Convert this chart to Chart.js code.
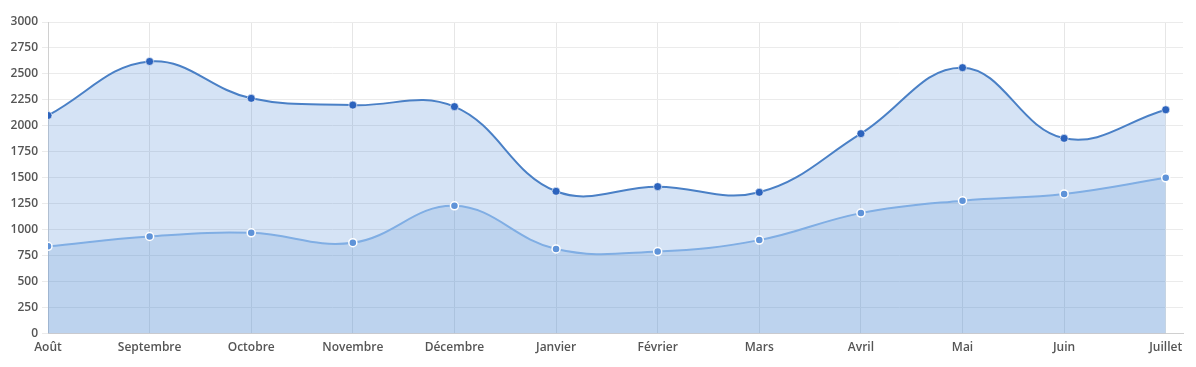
<!DOCTYPE html>
<html>
<head>
<meta charset="utf-8">
<script src="https://cdn.jsdelivr.net/npm/chart.js@4/dist/chart.umd.min.js"></script>
<style>
html,body{margin:0;padding:0;background:#fff;}
#wrap{width:1196px;height:367px;position:relative;}
</style>
</head>
<body>
<div id="wrap"><canvas id="c"></canvas></div>
<script>
const months = ['Août','Septembre','Octobre','Novembre','Décembre','Janvier','Février','Mars','Avril','Mai','Juin','Juillet'];
const seriesTop = [2100,2620,2265,2200,2185,1370,1415,1360,1925,2560,1880,2155];
const seriesBottom = [840,935,970,875,1230,815,790,900,1160,1280,1345,1500];
const yTicks = [0,250,500,750,1000,1250,1500,1750,2000,2250,2500,2750,3000];

const toPts = arr => arr.map((v,i)=>({x:i,y:v}));

new Chart(document.getElementById('c'), {
  type: 'line',
  data: {
    datasets: [
      {
        data: toPts(seriesBottom),
        borderColor: '#80aee4',
        borderWidth: 2,
        backgroundColor: 'rgba(74,134,210,0.17)',
        fill: 'origin',
        tension: 0.4,
        pointRadius: 4,
        pointBorderWidth: 1.5,
        pointBackgroundColor: '#5f93d8',
        pointBorderColor: '#ffffff'
      },
      {
        data: toPts(seriesTop),
        borderColor: '#4a80c6',
        borderWidth: 2,
        backgroundColor: 'rgba(74,134,210,0.23)',
        fill: 'origin',
        tension: 0.4,
        pointRadius: 4,
        pointBorderWidth: 1,
        pointBackgroundColor: '#2c63bd',
        pointBorderColor: 'rgba(255,255,255,0.6)'
      }
    ]
  },
  options: {
    responsive: true,
    maintainAspectRatio: false,
    animation: false,
    layout: { padding: { left: 0, right: 13, top: 22, bottom: 5 } },
    plugins: { legend: { display: false }, tooltip: { enabled: false } },
    scales: {
      x: {
        type: 'linear',
        min: 0,
        max: 11.17,
        grid: { color: '#e6e6e6', tickLength: 0 },
        border: { color: '#d0d0d0' },
        ticks: {
          stepSize: 1,
          includeBounds: false,
          autoSkip: false,
          maxRotation: 0,
          padding: 7,
          color: '#555',
          font: { family: 'Open Sans', size: 12, weight: '600' },
          callback: v => months[v]
        }
      },
      y: {
        min: 0,
        max: 3000,
        afterBuildTicks: axis => { axis.ticks = yTicks.map(v => ({value: v})); },
        afterFit: axis => { axis.width = 48; },
        grid: { color: '#ebebeb', tickLength: 6 },
        border: { color: '#d0d0d0' },
        ticks: {
          padding: 4,
          color: '#555',
          font: { family: 'Open Sans', size: 12, weight: '600' },
          callback: v => String(v)
        }
      }
    }
  }
});
</script>
</body>
</html>
